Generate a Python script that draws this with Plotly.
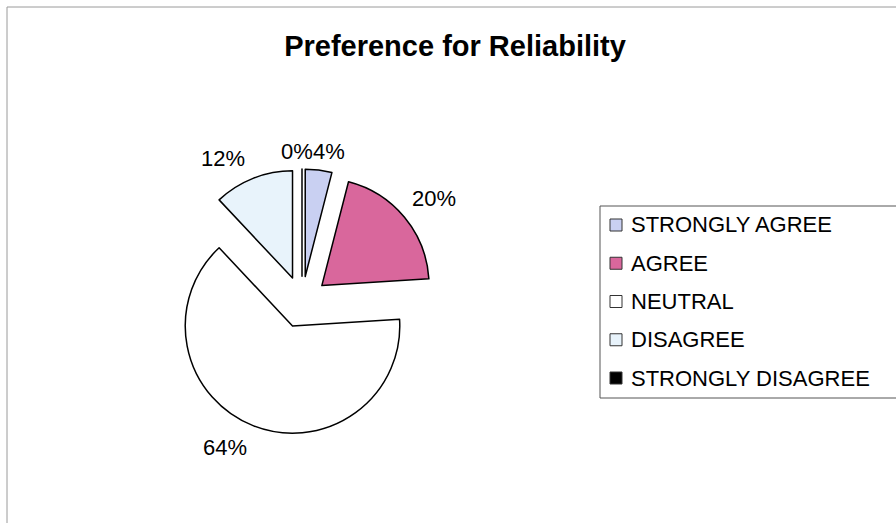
import plotly.graph_objects as go

# data
labels = ["STRONGLY AGREE", "AGREE", "NEUTRAL", "DISAGREE", "STRONGLY DISAGREE"]
values = [4, 20, 64, 12, 0]
colors = ["#c9d0f2", "#d9679c", "#ffffff", "#e8f3fb", "#000000"]

# where the excel chart put its percentage labels (pixels)
label_pos = [(329, 151), (434, 199), (225, 447), (223, 158), (297, 151)]

W, H = 896, 523
FONT = "Liberation Sans, Arial, sans-serif"


def px(x, y):
    return x / W, 1 - y / H


fig = go.Figure(go.Pie(
    labels=labels, values=values,
    sort=False, direction="clockwise", rotation=0,
    marker=dict(colors=colors, line=dict(color="#000000", width=1.5)),
    pull=[0.24] * len(values),
    textinfo="none",
    hoverinfo="label+percent",
    domain=dict(x=[169 / W, 435 / W], y=[1 - 435 / H, 1 - 169 / H]),
    showlegend=False,
))

total = sum(values)
annotations = []
for v, (lx, ly) in zip(values, label_pos):
    ax, ay = px(lx, ly)
    annotations.append(dict(
        x=ax, y=ay, xref="paper", yref="paper", showarrow=False,
        text=f"{round(100 * v / total)}%", xanchor="center", yanchor="middle",
        font=dict(size=22, color="#000000", family=FONT),
    ))

# outer chart frame (its right and bottom edges run off the picture)
fx0, fy0 = px(7, 7)
shapes = [dict(type="rect", xref="paper", yref="paper",
               x0=fx0, x1=1.1, y0=-0.1, y1=fy0,
               line=dict(color="#9a9a9a", width=1))]

# legend drawn by hand, excel style
x0, y0 = px(600, 206)
x1, y1 = px(930, 398)
shapes.append(dict(type="rect", xref="paper", yref="paper", x0=x0, x1=x1, y0=y1, y1=y0,
                   line=dict(color="#555555", width=1), fillcolor="#ffffff", layer="below"))
row0, step = 225, 38.25
for i, (lab, col) in enumerate(zip(labels, colors)):
    cy = row0 + i * step
    sx0, sy0 = px(610, cy - 6)
    sx1, sy1 = px(622, cy + 6)
    shapes.append(dict(type="rect", xref="paper", yref="paper",
                       x0=sx0, x1=sx1, y0=sy1, y1=sy0,
                       line=dict(color="#333333", width=1), fillcolor=col))
    tx, ty = px(629, cy)
    annotations.append(dict(
        x=tx, y=ty, xref="paper", yref="paper", showarrow=False,
        text=lab, xanchor="left", yanchor="middle",
        font=dict(size=22, color="#000000", family=FONT),
    ))

tx, ty = px(455, 46)
fig.update_layout(
    width=W, height=H,
    paper_bgcolor="#ffffff", plot_bgcolor="#ffffff",
    margin=dict(l=0, r=0, t=0, b=0),
    font=dict(family=FONT, color="#000000", size=20),
    title=dict(text="<b>Preference for Reliability</b>", x=tx, xanchor="center",
               y=ty, yanchor="middle",
               font=dict(size=29, color="#000000", family=FONT)),
    annotations=annotations,
    shapes=shapes,
)

# drop the default 8px page margin so the figure sits at the window's corner
fig.write_html("out.html", config={"displayModeBar": False},
               post_script="document.body.style.margin='0';document.body.style.overflow='hidden';")
